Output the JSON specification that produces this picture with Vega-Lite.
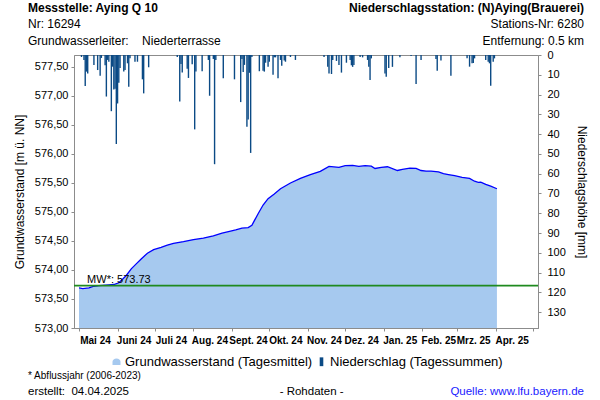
{
  "$schema": "https://vega.github.io/schema/vega-lite/v6.json",
  "width": 464,
  "height": 273,
  "autosize": "none",
  "padding": {"left": 74, "top": 55, "right": 62, "bottom": 72},
  "background": "white",
  "config": {
    "font": "Liberation Sans",
    "view": {"stroke": "#8c8c8c", "strokeWidth": 1},
    "axis": {"domainColor": "#8c8c8c", "tickColor": "#8c8c8c", "labelColor": "#000", "titleColor": "#000", "grid": false, "labelFont": "Liberation Sans", "titleFont": "Liberation Sans", "titleFontWeight": "normal", "labelFontSize": 11, "titleFontSize": 12, "labelOverlap": false},
    "legend": {"labelFont": "Liberation Sans", "layout": {"bottom": {"anchor": "middle"}}}
  },
  "datasets": {
    "gw": [
      {"d": "2024-05-01", "w": 573.69}, {"d": "2024-05-04", "w": 573.68}, {"d": "2024-05-09", "w": 573.69},
      {"d": "2024-05-13", "w": 573.72}, {"d": "2024-05-17", "w": 573.73}, {"d": "2024-05-25", "w": 573.745},
      {"d": "2024-05-29", "w": 573.75}, {"d": "2024-06-02", "w": 573.78}, {"d": "2024-06-05", "w": 573.84},
      {"d": "2024-06-08", "w": 573.905}, {"d": "2024-06-12", "w": 574.02}, {"d": "2024-06-16", "w": 574.105},
      {"d": "2024-06-20", "w": 574.19}, {"d": "2024-06-25", "w": 574.29}, {"d": "2024-06-30", "w": 574.35},
      {"d": "2024-07-06", "w": 574.39}, {"d": "2024-07-11", "w": 574.43}, {"d": "2024-07-16", "w": 574.46},
      {"d": "2024-07-24", "w": 574.49}, {"d": "2024-08-01", "w": 574.525}, {"d": "2024-08-09", "w": 574.55},
      {"d": "2024-08-17", "w": 574.59}, {"d": "2024-08-24", "w": 574.635}, {"d": "2024-08-30", "w": 574.665},
      {"d": "2024-09-04", "w": 574.69}, {"d": "2024-09-09", "w": 574.72}, {"d": "2024-09-14", "w": 574.73},
      {"d": "2024-09-17", "w": 574.77}, {"d": "2024-09-19", "w": 574.85}, {"d": "2024-09-22", "w": 574.97},
      {"d": "2024-09-26", "w": 575.12}, {"d": "2024-09-30", "w": 575.23}, {"d": "2024-10-05", "w": 575.31},
      {"d": "2024-10-10", "w": 575.4}, {"d": "2024-10-18", "w": 575.5}, {"d": "2024-10-26", "w": 575.58},
      {"d": "2024-11-03", "w": 575.645}, {"d": "2024-11-11", "w": 575.7}, {"d": "2024-11-18", "w": 575.785},
      {"d": "2024-11-26", "w": 575.77}, {"d": "2024-12-01", "w": 575.8}, {"d": "2024-12-07", "w": 575.805},
      {"d": "2024-12-12", "w": 575.785}, {"d": "2024-12-17", "w": 575.8}, {"d": "2024-12-22", "w": 575.79},
      {"d": "2024-12-25", "w": 575.75}, {"d": "2024-12-30", "w": 575.77}, {"d": "2025-01-04", "w": 575.78},
      {"d": "2025-01-12", "w": 575.715}, {"d": "2025-01-16", "w": 575.735}, {"d": "2025-01-22", "w": 575.755},
      {"d": "2025-01-27", "w": 575.75}, {"d": "2025-01-31", "w": 575.715}, {"d": "2025-02-04", "w": 575.705},
      {"d": "2025-02-08", "w": 575.705}, {"d": "2025-02-14", "w": 575.69}, {"d": "2025-02-18", "w": 575.66},
      {"d": "2025-02-22", "w": 575.645}, {"d": "2025-02-27", "w": 575.625}, {"d": "2025-03-05", "w": 575.595},
      {"d": "2025-03-11", "w": 575.58}, {"d": "2025-03-15", "w": 575.53}, {"d": "2025-03-18", "w": 575.51},
      {"d": "2025-03-20", "w": 575.515}, {"d": "2025-03-24", "w": 575.475}, {"d": "2025-03-28", "w": 575.445},
      {"d": "2025-04-02", "w": 575.4}
    ],
    "rain": [
      {"d": "2024-05-03", "p": 1}, {"d": "2024-05-05", "p": 2.5}, {"d": "2024-05-06", "p": 15.7}, {"d": "2024-05-07", "p": 8.4},
      {"d": "2024-05-08", "p": 9.3}, {"d": "2024-05-13", "p": 5}, {"d": "2024-05-16", "p": 7.6}, {"d": "2024-05-18", "p": 10.5},
      {"d": "2024-05-19", "p": 1.5}, {"d": "2024-05-22", "p": 5.2}, {"d": "2024-05-23", "p": 21}, {"d": "2024-05-24", "p": 2.5},
      {"d": "2024-05-25", "p": 3.4}, {"d": "2024-05-27", "p": 28.4}, {"d": "2024-05-28", "p": 5.9}, {"d": "2024-05-29", "p": 17.4},
      {"d": "2024-05-30", "p": 17}, {"d": "2024-05-31", "p": 45}, {"d": "2024-06-01", "p": 24.5}, {"d": "2024-06-02", "p": 14},
      {"d": "2024-06-03", "p": 6.6}, {"d": "2024-06-06", "p": 8.4}, {"d": "2024-06-07", "p": 7.6}, {"d": "2024-06-09", "p": 4.2},
      {"d": "2024-06-10", "p": 16}, {"d": "2024-06-11", "p": 1.7}, {"d": "2024-06-15", "p": 3.4}, {"d": "2024-06-17", "p": 3.4},
      {"d": "2024-06-21", "p": 12.3}, {"d": "2024-06-22", "p": 19.4}, {"d": "2024-06-26", "p": 6.2}, {"d": "2024-07-19", "p": 1},
      {"d": "2024-07-21", "p": 23.5}, {"d": "2024-07-22", "p": 4.6}, {"d": "2024-07-23", "p": 8.9}, {"d": "2024-07-27", "p": 7},
      {"d": "2024-07-28", "p": 11.6}, {"d": "2024-07-31", "p": 4.7}, {"d": "2024-08-02", "p": 37.6}, {"d": "2024-08-03", "p": 8.4},
      {"d": "2024-08-08", "p": 8.2}, {"d": "2024-08-13", "p": 2.5}, {"d": "2024-08-14", "p": 20.6}, {"d": "2024-08-17", "p": 2},
      {"d": "2024-08-18", "p": 55.2}, {"d": "2024-08-19", "p": 2.5}, {"d": "2024-08-25", "p": 11.8}, {"d": "2024-09-03", "p": 12.3},
      {"d": "2024-09-08", "p": 23.8}, {"d": "2024-09-09", "p": 2}, {"d": "2024-09-10", "p": 8.6}, {"d": "2024-09-11", "p": 5},
      {"d": "2024-09-13", "p": 36.3}, {"d": "2024-09-14", "p": 32.6}, {"d": "2024-09-15", "p": 9}, {"d": "2024-09-16", "p": 49.5},
      {"d": "2024-09-17", "p": 1}, {"d": "2024-09-23", "p": 8.2}, {"d": "2024-09-26", "p": 7.9}, {"d": "2024-09-27", "p": 8.4},
      {"d": "2024-09-28", "p": 3.9}, {"d": "2024-09-30", "p": 6}, {"d": "2024-10-01", "p": 3.4}, {"d": "2024-10-04", "p": 10},
      {"d": "2024-10-05", "p": 1.2}, {"d": "2024-10-06", "p": 1.2}, {"d": "2024-10-08", "p": 11.8}, {"d": "2024-10-10", "p": 2.5},
      {"d": "2024-10-11", "p": 5.4}, {"d": "2024-10-13", "p": 2.8}, {"d": "2024-10-14", "p": 3.4}, {"d": "2024-10-18", "p": 1},
      {"d": "2024-10-22", "p": 2.5}, {"d": "2024-11-14", "p": 1}, {"d": "2024-11-17", "p": 5.9}, {"d": "2024-11-18", "p": 9.3},
      {"d": "2024-11-20", "p": 9.6}, {"d": "2024-11-21", "p": 2.5}, {"d": "2024-11-24", "p": 3}, {"d": "2024-11-26", "p": 5},
      {"d": "2024-11-28", "p": 8.9}, {"d": "2024-12-02", "p": 3.9}, {"d": "2024-12-05", "p": 2.5}, {"d": "2024-12-06", "p": 5.2},
      {"d": "2024-12-07", "p": 6}, {"d": "2024-12-08", "p": 5}, {"d": "2024-12-13", "p": 1}, {"d": "2024-12-15", "p": 1.2},
      {"d": "2024-12-19", "p": 2.5}, {"d": "2024-12-20", "p": 5.9}, {"d": "2024-12-21", "p": 12.6}, {"d": "2024-12-22", "p": 1.7},
      {"d": "2025-01-02", "p": 9.3}, {"d": "2025-01-03", "p": 11}, {"d": "2025-01-05", "p": 6.6}, {"d": "2025-01-08", "p": 6},
      {"d": "2025-01-14", "p": 1.2}, {"d": "2025-01-23", "p": 0.5}, {"d": "2025-01-27", "p": 14.7}, {"d": "2025-01-31", "p": 2.5},
      {"d": "2025-02-12", "p": 2}, {"d": "2025-02-13", "p": 7.9}, {"d": "2025-02-16", "p": 2.8}, {"d": "2025-02-24", "p": 10.5},
      {"d": "2025-03-09", "p": 1.7}, {"d": "2025-03-11", "p": 5.9}, {"d": "2025-03-13", "p": 4.2}, {"d": "2025-03-14", "p": 4},
      {"d": "2025-03-15", "p": 1.7}, {"d": "2025-03-24", "p": 2.5}, {"d": "2025-03-26", "p": 3.4}, {"d": "2025-03-27", "p": 4.2},
      {"d": "2025-03-28", "p": 15.5}, {"d": "2025-03-30", "p": 3.4}, {"d": "2025-03-31", "p": 1.7}
    ],
    "one": [{}]
  },
  "layer": [
    {
      "resolve": {"axis": {"x": "independent", "y": "independent"}},
      "layer": [
        {
          "data": {"name": "gw"},
          "mark": {"type": "area"},
          "encoding": {
            "x": {
              "field": "d", "type": "temporal",
              "scale": {"type": "utc", "domain": [{"year": 2024, "month": 5, "date": 1, "utc": true}, {"year": 2025, "month": 5, "date": 1, "utc": true}]},
              "axis": {
                "title": null,
                "values": [
                  {"year": 2024, "month": 5, "date": 1, "utc": true}, {"year": 2024, "month": 6, "date": 1, "utc": true},
                  {"year": 2024, "month": 7, "date": 1, "utc": true}, {"year": 2024, "month": 8, "date": 1, "utc": true},
                  {"year": 2024, "month": 9, "date": 1, "utc": true}, {"year": 2024, "month": 10, "date": 1, "utc": true},
                  {"year": 2024, "month": 11, "date": 1, "utc": true}, {"year": 2024, "month": 12, "date": 1, "utc": true},
                  {"year": 2025, "month": 1, "date": 1, "utc": true}, {"year": 2025, "month": 2, "date": 1, "utc": true},
                  {"year": 2025, "month": 3, "date": 1, "utc": true}, {"year": 2025, "month": 4, "date": 1, "utc": true},
                  {"year": 2025, "month": 5, "date": 1, "utc": true}
                ],
                "labelExpr": "(utcyear(datum.value) == 2025 && utcmonth(datum.value) == 4) ? '' : ['Jan.','Feb.','Mrz.','Apr.','Mai','Juni','Juli','Aug.','Sept.','Okt.','Nov.','Dez.'][utcmonth(datum.value)] + ' ' + utcFormat(datum.value, '%y')",
                "labelOffset": 16,
                "labelFlush": false,
                "labelOverlap": false,
                "labelBound": false,
                "labelFontSize": 10,
                "labelFontWeight": "bold",
                "tickSize": 3,
                "labelPadding": 4
              }
            },
            "y": {
              "field": "w", "type": "quantitative", "stack": null,
              "scale": {"domain": [573, 577.706], "nice": false, "zero": false},
              "axis": {
                "title": "Grundwasserstand [m ü. NN]",
                "values": [573, 573.5, 574, 574.5, 575, 575.5, 576, 576.5, 577, 577.5],
                "labelExpr": "replace(format(datum.value, '.2f'), '.', ',')",
                "labelOverlap": false,
                "tickSize": 3,
                "labelPadding": 3,
                "titlePadding": 8
              }
            },
            "y2": {"datum": 573},
            "color": {
              "datum": "Grundwasserstand (Tagesmittel)", "type": "nominal",
              "scale": {"domain": ["Grundwasserstand (Tagesmittel)", "Niederschlag (Tagessummen)"], "range": ["#a6c9ef", "#0b4a85"]},
              "legend": {
                "title": null, "orient": "bottom", "direction": "horizontal",
                "labelFontSize": 13, "labelColor": "#000", "symbolSize": 64, "symbolStrokeWidth": 0,
                "offset": 10, "columnPadding": 2, "labelOffset": 2, "labelLimit": 0,
                "encode": {"symbols": {"update": {"shape": {"signal": "datum.value === 'Niederschlag (Tagessummen)' ? 'M-0.45,-1.1H0.45V1.1H-0.45Z' : 'M-1,0.8L-1,0A1,0.8 0 0 1 1,0L1,0.8Z'"}}}}
              }
            }
          }
        },
        {
          "data": {"name": "gw"},
          "mark": {"type": "line", "color": "#0000ff", "strokeWidth": 1.3},
          "encoding": {
            "x": {"field": "d", "type": "temporal", "axis": null},
            "y": {"field": "w", "type": "quantitative", "axis": null, "scale": {"domain": [573, 577.706], "nice": false, "zero": false}}
          }
        },
        {
          "data": {"name": "one"},
          "mark": {"type": "rule", "color": "#1f8a1f", "strokeWidth": 1.6},
          "encoding": {
            "y": {"datum": 573.73, "type": "quantitative", "axis": null, "scale": {"domain": [573, 577.706], "nice": false, "zero": false}}
          }
        },
        {
          "data": {"name": "one"},
          "mark": {"type": "text", "text": "MW*: 573.73", "align": "left", "baseline": "alphabetic", "dy": -3, "fontSize": 11, "color": "#000"},
          "encoding": {
            "x": {"datum": {"year": 2024, "month": 5, "date": 7, "hours": 12, "utc": true}, "type": "temporal", "axis": null, "scale": {"domain": [{"year": 2024, "month": 5, "date": 1, "utc": true}, {"year": 2025, "month": 5, "date": 1, "utc": true}]}},
            "y": {"datum": 573.73, "type": "quantitative", "axis": null, "scale": {"domain": [573, 577.706], "nice": false, "zero": false}}
          }
        },
        {
          "data": {"name": "one"},
          "mark": {"type": "text", "text": "Messstelle: Aying Q 10", "align": "left", "baseline": "middle", "fontSize": 12, "fontWeight": "bold", "color": "#000"},
          "encoding": {
            "x": {"datum": {"year": 2024, "month": 3, "date": 21, "utc": true}, "type": "temporal", "axis": null, "scale": {"domain": [{"year": 2024, "month": 5, "date": 1, "utc": true}, {"year": 2025, "month": 5, "date": 1, "utc": true}]}},
            "y": {"datum": 578.516, "type": "quantitative", "axis": null, "scale": {"domain": [573, 577.706], "nice": false, "zero": false}}
          }
        },
        {
          "data": {"name": "one"},
          "mark": {"type": "text", "text": "Nr: 16294", "align": "left", "baseline": "middle", "fontSize": 12, "color": "#000"},
          "encoding": {
            "x": {"datum": {"year": 2024, "month": 3, "date": 21, "utc": true}, "type": "temporal", "axis": null, "scale": {"domain": [{"year": 2024, "month": 5, "date": 1, "utc": true}, {"year": 2025, "month": 5, "date": 1, "utc": true}]}},
            "y": {"datum": 578.24, "type": "quantitative", "axis": null, "scale": {"domain": [573, 577.706], "nice": false, "zero": false}}
          }
        },
        {
          "data": {"name": "one"},
          "mark": {"type": "text", "text": "Grundwasserleiter:\u00a0\u00a0\u00a0\u00a0Niederterrasse", "align": "left", "baseline": "middle", "fontSize": 12, "color": "#000"},
          "encoding": {
            "x": {"datum": {"year": 2024, "month": 3, "date": 21, "utc": true}, "type": "temporal", "axis": null, "scale": {"domain": [{"year": 2024, "month": 5, "date": 1, "utc": true}, {"year": 2025, "month": 5, "date": 1, "utc": true}]}},
            "y": {"datum": 577.947, "type": "quantitative", "axis": null, "scale": {"domain": [573, 577.706], "nice": false, "zero": false}}
          }
        },
        {
          "data": {"name": "one"},
          "mark": {"type": "text", "text": "Niederschlagsstation: (N)Aying(Brauerei)", "align": "right", "baseline": "middle", "fontSize": 12, "fontWeight": "bold", "color": "#000"},
          "encoding": {
            "x": {"datum": {"year": 2025, "month": 6, "date": 11, "utc": true}, "type": "temporal", "axis": null, "scale": {"domain": [{"year": 2024, "month": 5, "date": 1, "utc": true}, {"year": 2025, "month": 5, "date": 1, "utc": true}]}},
            "y": {"datum": 578.516, "type": "quantitative", "axis": null, "scale": {"domain": [573, 577.706], "nice": false, "zero": false}}
          }
        },
        {
          "data": {"name": "one"},
          "mark": {"type": "text", "text": "Stations-Nr: 6280", "align": "right", "baseline": "middle", "fontSize": 12, "color": "#000"},
          "encoding": {
            "x": {"datum": {"year": 2025, "month": 6, "date": 11, "utc": true}, "type": "temporal", "axis": null, "scale": {"domain": [{"year": 2024, "month": 5, "date": 1, "utc": true}, {"year": 2025, "month": 5, "date": 1, "utc": true}]}},
            "y": {"datum": 578.24, "type": "quantitative", "axis": null, "scale": {"domain": [573, 577.706], "nice": false, "zero": false}}
          }
        },
        {
          "data": {"name": "one"},
          "mark": {"type": "text", "text": "Entfernung: 0.5 km", "align": "right", "baseline": "middle", "fontSize": 12, "color": "#000"},
          "encoding": {
            "x": {"datum": {"year": 2025, "month": 6, "date": 11, "utc": true}, "type": "temporal", "axis": null, "scale": {"domain": [{"year": 2024, "month": 5, "date": 1, "utc": true}, {"year": 2025, "month": 5, "date": 1, "utc": true}]}},
            "y": {"datum": 577.947, "type": "quantitative", "axis": null, "scale": {"domain": [573, 577.706], "nice": false, "zero": false}}
          }
        },
        {
          "data": {"name": "one"},
          "mark": {"type": "text", "text": "* Abflussjahr (2006-2023)", "align": "left", "baseline": "middle", "fontSize": 10, "color": "#000"},
          "encoding": {
            "x": {"datum": {"year": 2024, "month": 3, "date": 21, "utc": true}, "type": "temporal", "axis": null, "scale": {"domain": [{"year": 2024, "month": 5, "date": 1, "utc": true}, {"year": 2025, "month": 5, "date": 1, "utc": true}]}},
            "y": {"datum": 572.17, "type": "quantitative", "axis": null, "scale": {"domain": [573, 577.706], "nice": false, "zero": false}}
          }
        },
        {
          "data": {"name": "one"},
          "mark": {"type": "text", "text": "erstellt:\u00a0\u00a004.04.2025", "align": "left", "baseline": "middle", "fontSize": 11.5, "color": "#000"},
          "encoding": {
            "x": {"datum": {"year": 2024, "month": 3, "date": 21, "utc": true}, "type": "temporal", "axis": null, "scale": {"domain": [{"year": 2024, "month": 5, "date": 1, "utc": true}, {"year": 2025, "month": 5, "date": 1, "utc": true}]}},
            "y": {"datum": 571.9, "type": "quantitative", "axis": null, "scale": {"domain": [573, 577.706], "nice": false, "zero": false}}
          }
        },
        {
          "data": {"name": "one"},
          "mark": {"type": "text", "text": "- Rohdaten -", "align": "center", "baseline": "middle", "fontSize": 11.5, "color": "#000"},
          "encoding": {
            "x": {"datum": {"year": 2024, "month": 11, "date": 4, "utc": true}, "type": "temporal", "axis": null, "scale": {"domain": [{"year": 2024, "month": 5, "date": 1, "utc": true}, {"year": 2025, "month": 5, "date": 1, "utc": true}]}},
            "y": {"datum": 571.9, "type": "quantitative", "axis": null, "scale": {"domain": [573, 577.706], "nice": false, "zero": false}}
          }
        },
        {
          "data": {"name": "one"},
          "mark": {"type": "text", "text": "Quelle: www.lfu.bayern.de", "align": "right", "baseline": "middle", "fontSize": 11.5, "color": "#1a1aff"},
          "encoding": {
            "x": {"datum": {"year": 2025, "month": 6, "date": 11, "utc": true}, "type": "temporal", "axis": null, "scale": {"domain": [{"year": 2024, "month": 5, "date": 1, "utc": true}, {"year": 2025, "month": 5, "date": 1, "utc": true}]}},
            "y": {"datum": 571.9, "type": "quantitative", "axis": null, "scale": {"domain": [573, 577.706], "nice": false, "zero": false}}
          }
        }
      ]
    },
    {
      "data": {"name": "rain"},
      "mark": {"type": "bar", "width": 1.4, "orient": "vertical"},
      "encoding": {
        "x": {"field": "d", "type": "temporal", "axis": null},
        "y": {
          "field": "p", "type": "quantitative",
          "scale": {"domain": [0, 138], "reverse": true, "nice": false, "zero": true},
          "axis": {
            "orient": "right",
            "title": "Niederschlagshöhe [mm]",
            "values": [0, 10, 20, 30, 40, 50, 60, 70, 80, 90, 100, 110, 120, 130],
            "labelOverlap": false,
            "tickSize": 3,
            "labelPadding": 6,
            "titlePadding": 9
          }
        },
        "color": {"datum": "Niederschlag (Tagessummen)", "type": "nominal"}
      }
    }
  ],
  "resolve": {"scale": {"y": "independent"}, "axis": {"x": "independent"}}
}
